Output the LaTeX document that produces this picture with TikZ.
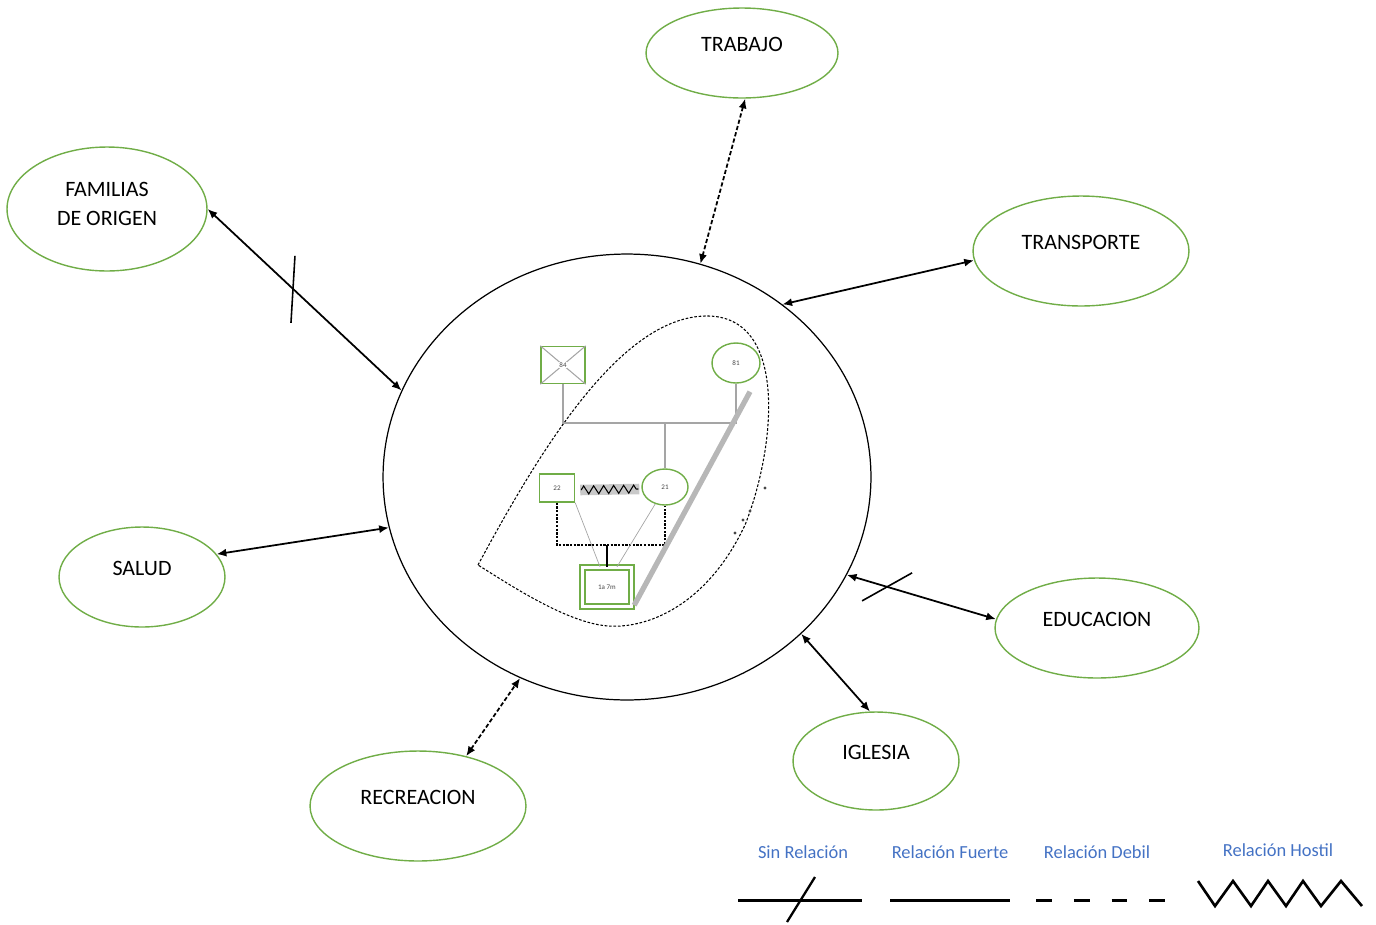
\documentclass[tikz,border=0pt]{standalone}
\usepackage{fontspec}
\setmainfont{Carlito}
\usepackage{tikz}
\usetikzlibrary{shapes,arrows.meta,positioning,calc,decorations.pathmorphing}
\definecolor{verdeeco}{RGB}{112, 173, 71}
\definecolor{azulley}{RGB}{68, 114, 196}
\definecolor{grisgen}{RGB}{165, 165, 165}
\definecolor{textogen}{RGB}{70, 70, 70}

\begin{document}
\begin{tikzpicture}[x=0.02cm, y=-0.02cm, >={Latex[length=5.5pt, width=4.6pt]},
    eco/.style={ellipse, draw=verdeeco, line width=0.8pt, inner sep=0pt},
    rotulo/.style={font=\fontsize{12.5}{16.5}\selectfont, align=center, yshift=0.18cm},
    relfuerte/.style={<->, line width=1pt},
    reldebil/.style={<->, line width=1pt, dash pattern=on 2.4pt off 1.3pt},
    cruce/.style={line width=0.9pt},
    persona/.style={draw=verdeeco, line width=0.8pt, inner sep=0pt, font=\fontsize{4}{4}\selectfont, text=textogen},
    trazo/.style={grisgen, line width=0.6pt},
    leyenda/.style={font=\fontsize{10.5}{12}\selectfont, text=azulley},
    leylinea/.style={line width=1.7pt}]
    \useasboundingbox (0,0) rectangle (1376,924);

    % Hogar (familia nuclear)
    \node[draw, ellipse, line width=0.7pt, inner sep=0pt, minimum width=9.76cm, minimum height=8.92cm] (hogar) at (627,477) {};

    % Sistemas externos
    \node[eco, minimum width=3.84cm, minimum height=1.8cm, label={[rotulo]center:TRABAJO}] (trabajo) at (742,53) {};
    \node[eco, minimum width=4.0cm, minimum height=2.48cm, label={[rotulo, yshift=-0.08cm]center:FAMILIAS\\DE ORIGEN}] (familias) at (107,209) {};
    \node[eco, minimum width=4.32cm, minimum height=2.2cm, label={[rotulo]center:TRANSPORTE}] (transporte) at (1081,251) {};
    \node[eco, minimum width=3.32cm, minimum height=2.0cm, label={[rotulo]center:SALUD}] (salud) at (142,577) {};
    \node[eco, minimum width=4.08cm, minimum height=2.0cm, label={[rotulo]center:EDUCACION}] (educacion) at (1097,628) {};
    \node[eco, minimum width=3.32cm, minimum height=1.96cm, label={[rotulo]center:IGLESIA}] (iglesia) at (876,761) {};
    \node[eco, minimum width=4.32cm, minimum height=2.2cm, label={[rotulo]center:RECREACION}] (recreacion) at (418,806) {};

    % Relaciones
    \draw[reldebil] (trabajo.-86) -- (hogar.71);
    \draw[relfuerte] (familias.0) -- coordinate[pos=0.44] (cortefam) (hogar.159);
    \draw[cruce] ($(cortefam)+(2,-33)$) -- ($(cortefam)+(-2,34)$);
    \draw[relfuerte] (transporte.185) -- (hogar.48);
    \draw[relfuerte] (salud.17) -- (hogar.192);
    \draw[relfuerte] (educacion.175) -- coordinate[pos=0.73] (corteedu) (hogar.-24);
    \draw[cruce] ($(corteedu)+(-25,14)$) -- ($(corteedu)+(25,-14)$);
    \draw[relfuerte] (iglesia.97) -- (hogar.-42);
    \draw[reldebil] (recreacion.46) -- (hogar.-118);

    % Genograma
    \draw[line width=0.6pt, dash pattern=on 1.5pt off 1pt] (478,565) .. controls (540,450) and (620,318) .. (705,316)
        .. controls (790,314) and (775,450) .. (745,525)
        .. controls (705,610) and (640,632) .. (600,625)
        .. controls (560,618) and (510,585) .. (478,565) -- cycle;
    \node[persona, minimum width=0.88cm, minimum height=0.74cm] (abuelo) at (563,365) {};
    \draw[trazo] (abuelo.north west) -- (abuelo.south east) (abuelo.north east) -- (abuelo.south west);
    \node[font=\fontsize{4}{4}\selectfont, text=textogen, fill=white, inner sep=0.3pt] at (abuelo) {84};
    \node[persona, ellipse, minimum width=0.96cm, minimum height=0.8cm] (abuela) at (736,363) {81};
    \node[persona, minimum width=0.7cm, minimum height=0.56cm] (padre) at (557,488) {22};
    \node[persona, ellipse, minimum width=0.92cm, minimum height=0.72cm] (madre) at (665,487) {21};
    \node[persona, double=white, double distance=2.2pt, minimum width=0.98cm, minimum height=0.78cm] (hijo) at (607,587) {1a 7m};

    \coordinate (lineaabuelos) at (563,423);
    \coordinate (lineapadres) at (557,545);
    \draw[trazo] (abuelo.south) -- (lineaabuelos) -| (abuela.south);
    \draw[trazo] (madre.north) -- (madre.north |- lineaabuelos);
    \draw[grisgen!60, line width=6pt] ($(padre.east)+(5,2)$) -- ($(madre.west)+(-2,2)$);
    \draw[line width=0.6pt, decorate, decoration={zigzag, segment length=0.2cm, amplitude=0.08cm}] ($(padre.east)+(6,2)$) -- ($(madre.west)+(-3,2)$);
    \draw[line width=0.6pt, dash pattern=on 1.3pt off 0.8pt] (padre.south) -- (lineapadres) -| (madre.south);
    \draw[line width=1.4pt] (hijo.north) -- (hijo.north |- lineapadres);
    \draw[trazo, line width=0.4pt] (padre.south east) -- ($(hijo.north)+(-7,0)$);
    \draw[trazo, line width=0.4pt] (madre.-120) -- ($(hijo.north)+(10,0)$);
    \draw[grisgen!80, line width=3pt] ($(hijo.south east)+(2,-2)$) -- ($(abuela.south)+(14,8)$);
    \foreach \p in {(765,488), (750,511), (743,520), (735,533)}
        \fill[textogen] \p circle (1.6);

    % Leyenda
    \node[leyenda] (leysin) at (803,852) {Sin Relación};
    \node[leyenda] (leyfuerte) at (950,852) {Relación Fuerte};
    \node[leyenda] (leydebil) at (1097,852) {Relación Debil};
    \node[leyenda] (leyhostil) at (1278,850) {Relación Hostil};
    \draw[leylinea] (738,900) -- (862,900);
    \draw[line width=1.3pt] (815,877) -- (787,922);
    \draw[leylinea] (890,900) -- (1010,900);
    \draw[leylinea, dash pattern=on 9pt off 12.5pt] (1036,900) -- (1184,900);
    \draw[line width=1.5pt] (1198,881) -- (1215,906) -- (1233,881) -- (1251,906) -- (1268,881) -- (1286,906)
        -- (1303,881) -- (1321,906) -- (1341,881) -- (1362,906);
\end{tikzpicture}
\end{document}
